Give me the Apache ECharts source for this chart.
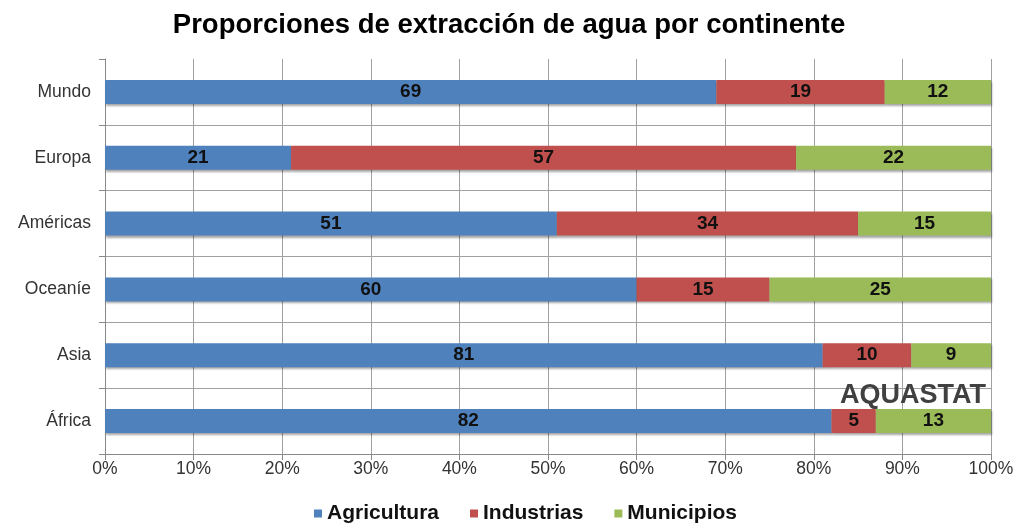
<!DOCTYPE html>
<html>
<head>
<meta charset="utf-8">
<script src="https://cdn.jsdelivr.net/npm/echarts@6/dist/echarts.min.js"></script>
<style>
html, body { margin: 0; padding: 0; background: #fff; }
#chart { width: 1018px; height: 525px; }
</style>
</head>
<body>
<div id="chart"></div>
<script>
// continentes (de abajo hacia arriba)
var continentes = ['África', 'Asia', 'Oceaníe', 'Américas', 'Europa', 'Mundo'];
var agricultura = [82, 81, 60, 51, 21, 69];
var industrias = [5, 10, 15, 34, 57, 19];
var municipios = [13, 9, 25, 15, 22, 12];

var myChart = echarts.init(document.getElementById('chart'));

function serie(nombre, datos, color) {
    return {
        name: nombre,
        type: 'bar',
        stack: 'total',
        barWidth: 24,
        data: datos,
        itemStyle: {
            color: color,
            shadowColor: 'rgba(0,0,0,0.35)',
            shadowOffsetY: 2,
            shadowOffsetX: 1,
            shadowBlur: 2
        },
        label: {
            show: true,
            position: 'inside',
            color: '#111',
            fontFamily: 'Liberation Sans',
            fontWeight: 'bold',
            fontSize: 19
        }
    };
}

var option = {
    animation: false,
    title: {
        text: 'Proporciones de extracción de agua por continente',
        left: 'center',
        top: 6,
        textStyle: {
            fontFamily: 'Liberation Sans',
            fontWeight: 'bold',
            fontSize: 27.5,
            color: '#000'
        }
    },
    legend: {
        top: 498,
        left: 309,
        itemWidth: 8,
        itemHeight: 8,
        itemGap: 31,
        icon: 'rect',
        textStyle: {
            fontFamily: 'Liberation Sans',
            fontWeight: 'bold',
            fontSize: 21,
            color: '#111'
        },
        data: ['Agricultura', 'Industrias', 'Municipios']
    },
    grid: {
        left: 105,
        right: 27,
        top: 59,
        bottom: 71,
        containLabel: false
    },
    xAxis: {
        type: 'value',
        min: 0,
        max: 100,
        interval: 10,
        axisLine: { show: true, lineStyle: { color: '#888' } },
        axisTick: { show: true, length: 6, lineStyle: { color: '#888' } },
        axisLabel: {
            formatter: '{value}%',
            fontFamily: 'Liberation Sans',
            fontSize: 17.5,
            color: '#333',
            margin: 6
        },
        splitLine: { show: true, lineStyle: { color: '#a0a0a0', width: 1 } }
    },
    yAxis: {
        type: 'category',
        data: continentes,
        axisLine: { show: true, lineStyle: { color: '#888' } },
        axisTick: { show: true, length: 6, lineStyle: { color: '#888' } },
        axisLabel: {
            fontFamily: 'Liberation Sans',
            fontSize: 17.5,
            color: '#333',
            margin: 14
        },
        splitLine: { show: true, showMaxLine: false, lineStyle: { color: '#a0a0a0', width: 1 } }
    },
    graphic: [
        {
            type: 'text',
            right: 32,
            top: 382,
            style: {
                text: 'AQUASTAT',
                fontFamily: 'Liberation Sans',
                fontWeight: 'bold',
                fontSize: 27,
                fill: '#404040'
            },
            z: 100
        }
    ],
    series: [
        serie('Agricultura', agricultura, '#4f81bd'),
        serie('Industrias', industrias, '#c0504d'),
        serie('Municipios', municipios, '#9bbb59')
    ]
};

myChart.setOption(option);
</script>
</body>
</html>
